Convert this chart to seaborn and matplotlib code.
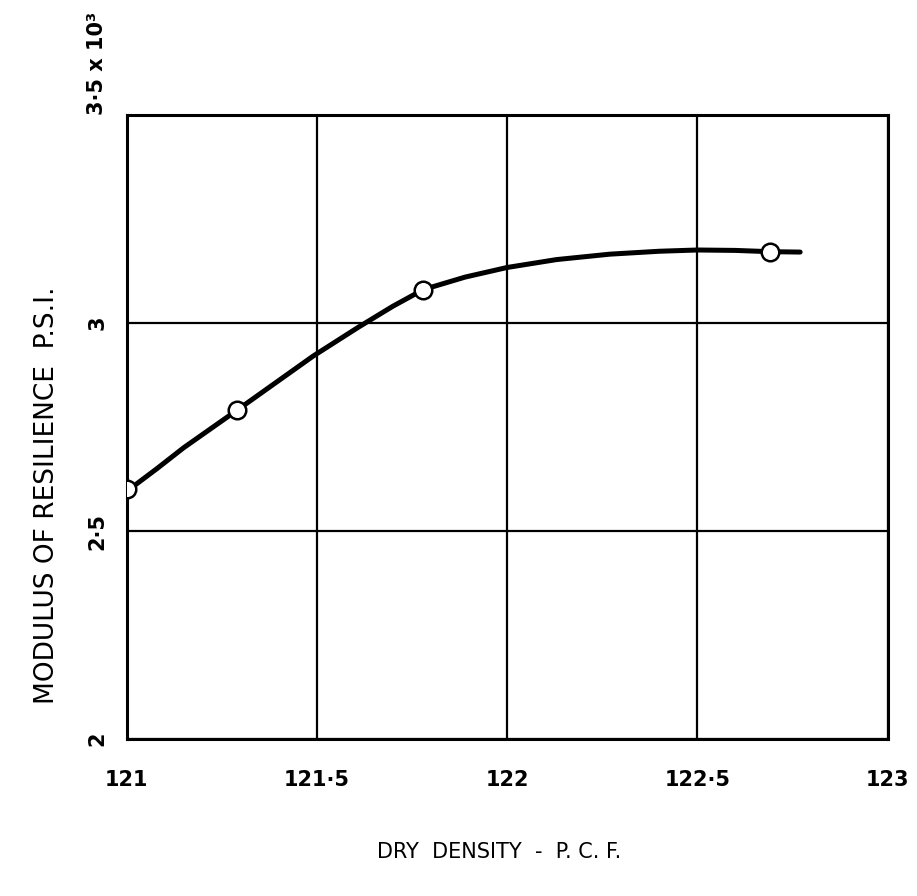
import matplotlib
matplotlib.use("Agg")
import matplotlib.pyplot as plt
import seaborn as sns
import pandas as pd

# measured points (dry density, modulus x 10^3)
density = [121.0, 121.29, 121.78, 122.69]
modulus = [2.60, 2.79, 3.08, 3.17]

# hand-drawn curve
curve_x = [121.0, 121.08, 121.15, 121.22, 121.29, 121.39, 121.49, 121.61, 121.70, 121.78,
           121.89, 122.0, 122.13, 122.27, 122.4, 122.5, 122.6, 122.69, 122.77]
curve_y = [2.595, 2.65, 2.70, 2.745, 2.79, 2.855, 2.92, 2.99, 3.04, 3.08,
           3.11, 3.133, 3.152, 3.165, 3.172, 3.175, 3.174, 3.171, 3.17]

x_ticks = [121, 121.5, 122, 122.5, 123]
x_labels = ["121", "121·5", "122", "122·5", "123"]
y_ticks = [2, 2.5, 3, 3.5]
y_labels = ["2", "2·5", "3", "3·5 x 10³"]

sns.set_style("white")
plt.rcParams['font.family'] = ['DejaVu Sans']
plt.rcParams['text.color'] = 'black'
plt.rcParams['axes.labelcolor'] = 'black'
plt.rcParams['xtick.color'] = 'black'
plt.rcParams['ytick.color'] = 'black'

fig = plt.figure(figsize=(9.17, 8.96), dpi=100)
ax = fig.add_axes([0.138, 0.175, 0.830, 0.697])

curve = pd.DataFrame({"x": curve_x, "y": curve_y})
pts = pd.DataFrame({"x": density, "y": modulus})
sns.lineplot(data=curve, x="x", y="y", ax=ax, color="black", linewidth=3.6, sort=False)
sns.scatterplot(data=pts, x="x", y="y", ax=ax, s=160, facecolor="white",
                edgecolor="black", linewidth=1.8, zorder=5)

ax.set_xlim(121, 123)
ax.set_ylim(2, 3.5)
ax.set_xticks(x_ticks)
ax.set_yticks(y_ticks)
ax.set_xticklabels(x_labels, fontsize=15, fontweight="bold")
ax.set_yticklabels(y_labels, fontsize=15, fontweight="bold", rotation=90, va="center")
ax.tick_params(axis="x", length=0, pad=22)
ax.tick_params(axis="y", length=0, pad=14)
# keep the long top y label from centering on the tick
for lab in ax.get_yticklabels()[-1:]:
    lab.set_va("bottom")

ax.grid(True, color="black", linewidth=1.6)
for s in ax.spines.values():
    s.set_color("black")
    s.set_linewidth(2.2)

ax.set_xlabel("DRY  DENSITY  -  P. C. F.", fontsize=15)
ax.xaxis.set_label_coords(0.49, -0.165)
ax.set_ylabel("MODULUS OF RESILIENCE  P.S.I.", fontsize=19)
ax.yaxis.set_label_coords(-0.088, 0.39)

fig.savefig("out.png", dpi=100)
